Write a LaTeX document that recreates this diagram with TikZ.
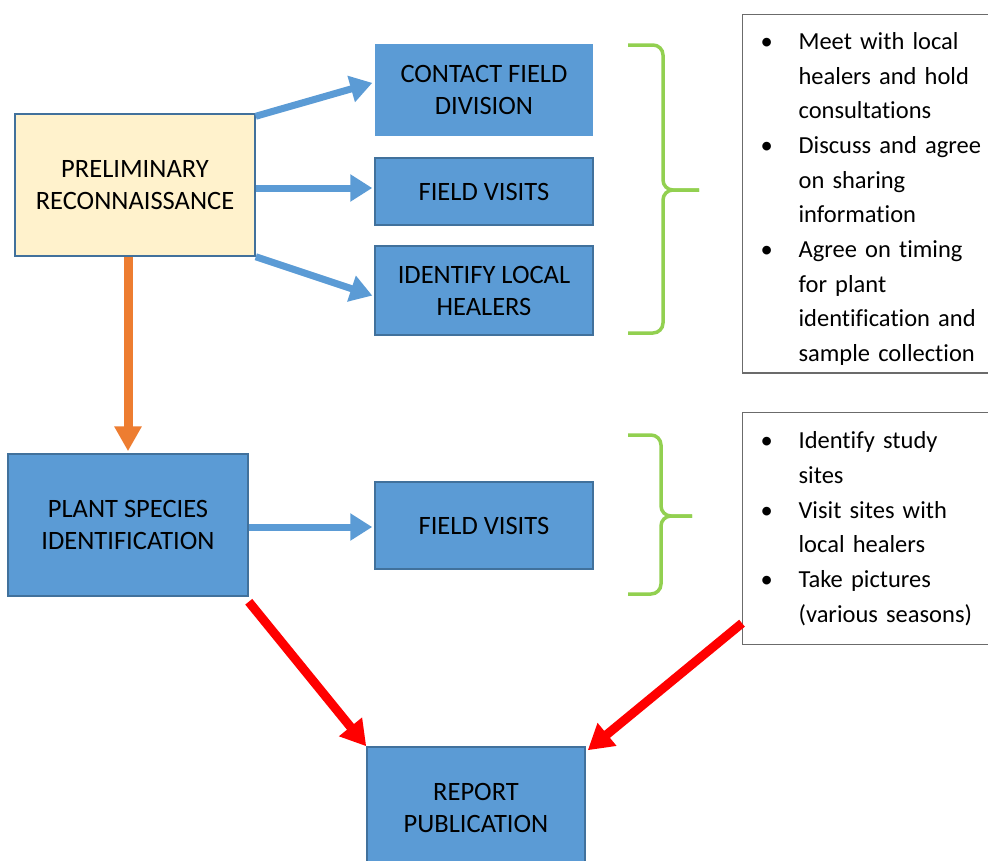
\documentclass[tikz,border=0pt]{standalone}
\usepackage{fontspec}
\setmainfont{Carlito}[Ligatures=NoCommon]
\usetikzlibrary{arrows.meta}
\definecolor{boxblue}{HTML}{5B9BD5}
\definecolor{edgeblue}{HTML}{41719C}
\definecolor{paleyellow}{HTML}{FFF2CC}
\definecolor{arrorange}{HTML}{ED7D31}
\definecolor{bracegreen}{HTML}{92D050}
\definecolor{listgray}{HTML}{6B6B6B}
\tikzset{
  stage/.style={draw=edgeblue,line width=1.5pt,fill=boxblue,align=center,inner sep=0pt,
    minimum width=218pt,font=\fontsize{26.5}{32}\selectfont},
  bigstage/.style={stage,minimum width=240pt,minimum height=142pt},
  tasklist/.style={draw=listgray,line width=1.2pt,anchor=north west,inner xsep=18pt,inner ysep=1pt,
    text width=226pt,align=left,font=\fontsize{24.5}{34.67}\selectfont},
  bluearrow/.style={-{Triangle[length=22pt,width=26pt]},line width=7pt,draw=boxblue,shorten >=2pt},
  redarrow/.style={-{Triangle[length=25pt,width=28pt]},line width=9pt,draw=red},
  bracket/.style={draw=bracegreen,line width=3.5pt,rounded corners=10pt}
}
\begin{document}
\begin{tikzpicture}[x=1pt,y=-1pt]
\useasboundingbox (0,0) rectangle (988,860);
% boxes
\node[bigstage,fill=paleyellow] (prelim) at (135,185) {PRELIMINARY\\RECONNAISSANCE};
\node[stage,draw=none,minimum height=92pt] (contact) at (484,90) {CONTACT FIELD\\DIVISION};
\node[stage,minimum height=67pt] (visitsA) at (484,191.5) {FIELD VISITS};
\node[stage,minimum height=89pt] (healers) at (484,290.5) {IDENTIFY LOCAL\\HEALERS};
\node[bigstage] (plant) at (128,525) {PLANT SPECIES\\IDENTIFICATION};
\node[stage,minimum height=87pt] (visitsB) at (484,525.5) {FIELD VISITS};
\node[stage,minimum height=122pt] (report) at (476,808) {REPORT\\PUBLICATION};
% task lists
\node[tasklist,minimum height=358pt] (tasksA) at (742,14) {\begin{tabular}{@{}p{38pt}@{}l@{}}
\rule{0pt}{34pt}\textbullet & Meet with local\\ & healers and hold\\ & consultations\\
\textbullet & Discuss and agree\\ & on sharing\\ & information\\
\textbullet & Agree on timing\\ & for plant\\ & identification and\\ & sample collection
\end{tabular}};
\node[tasklist,minimum height=232pt] (tasksB) at (742,412) {\begin{tabular}{@{}p{38pt}@{}l@{}}
\textbullet & Identify study\\ & sites\\
\textbullet & Visit sites with\\ & local healers\\
\textbullet & Take pictures\\ & (various seasons)
\end{tabular}};
% braces
\foreach \t/\m/\b/\v/\p in {45/190/333/663/699, 435/516/594/661/692}{
  \draw[bracket] (628,\t) -- (\v,\t) -- (\v,\m) -- (\p,\m);
  \draw[bracket] (628,\b) -- (\v,\b) -- (\v,\m) -- (\p,\m);
}
% arrows
\draw[bluearrow] ([yshift=-3pt]prelim.north east) -- (contact.176);
\draw[bluearrow] ([yshift=-3pt]prelim.east) -- ([yshift=-3pt]prelim.east -| visitsA.west);
\draw[bluearrow] (prelim.south east) -- (healers.183);
\draw[bluearrow] ([yshift=-2pt]plant.east) -- ([yshift=-2pt]plant.east -| visitsB.west);
\draw[-{Triangle[length=25pt,width=26pt]},line width=9pt,draw=arrorange,shorten >=2pt]
  (plant.north |- prelim.south) -- (plant.north);
\draw[redarrow] ([yshift=-5pt]plant.south east) -- (report.north west);
\draw[redarrow] ([yshift=22pt]tasksB.south west) -- ([xshift=2pt,yshift=-4pt]report.north east);
\end{tikzpicture}
\end{document}
